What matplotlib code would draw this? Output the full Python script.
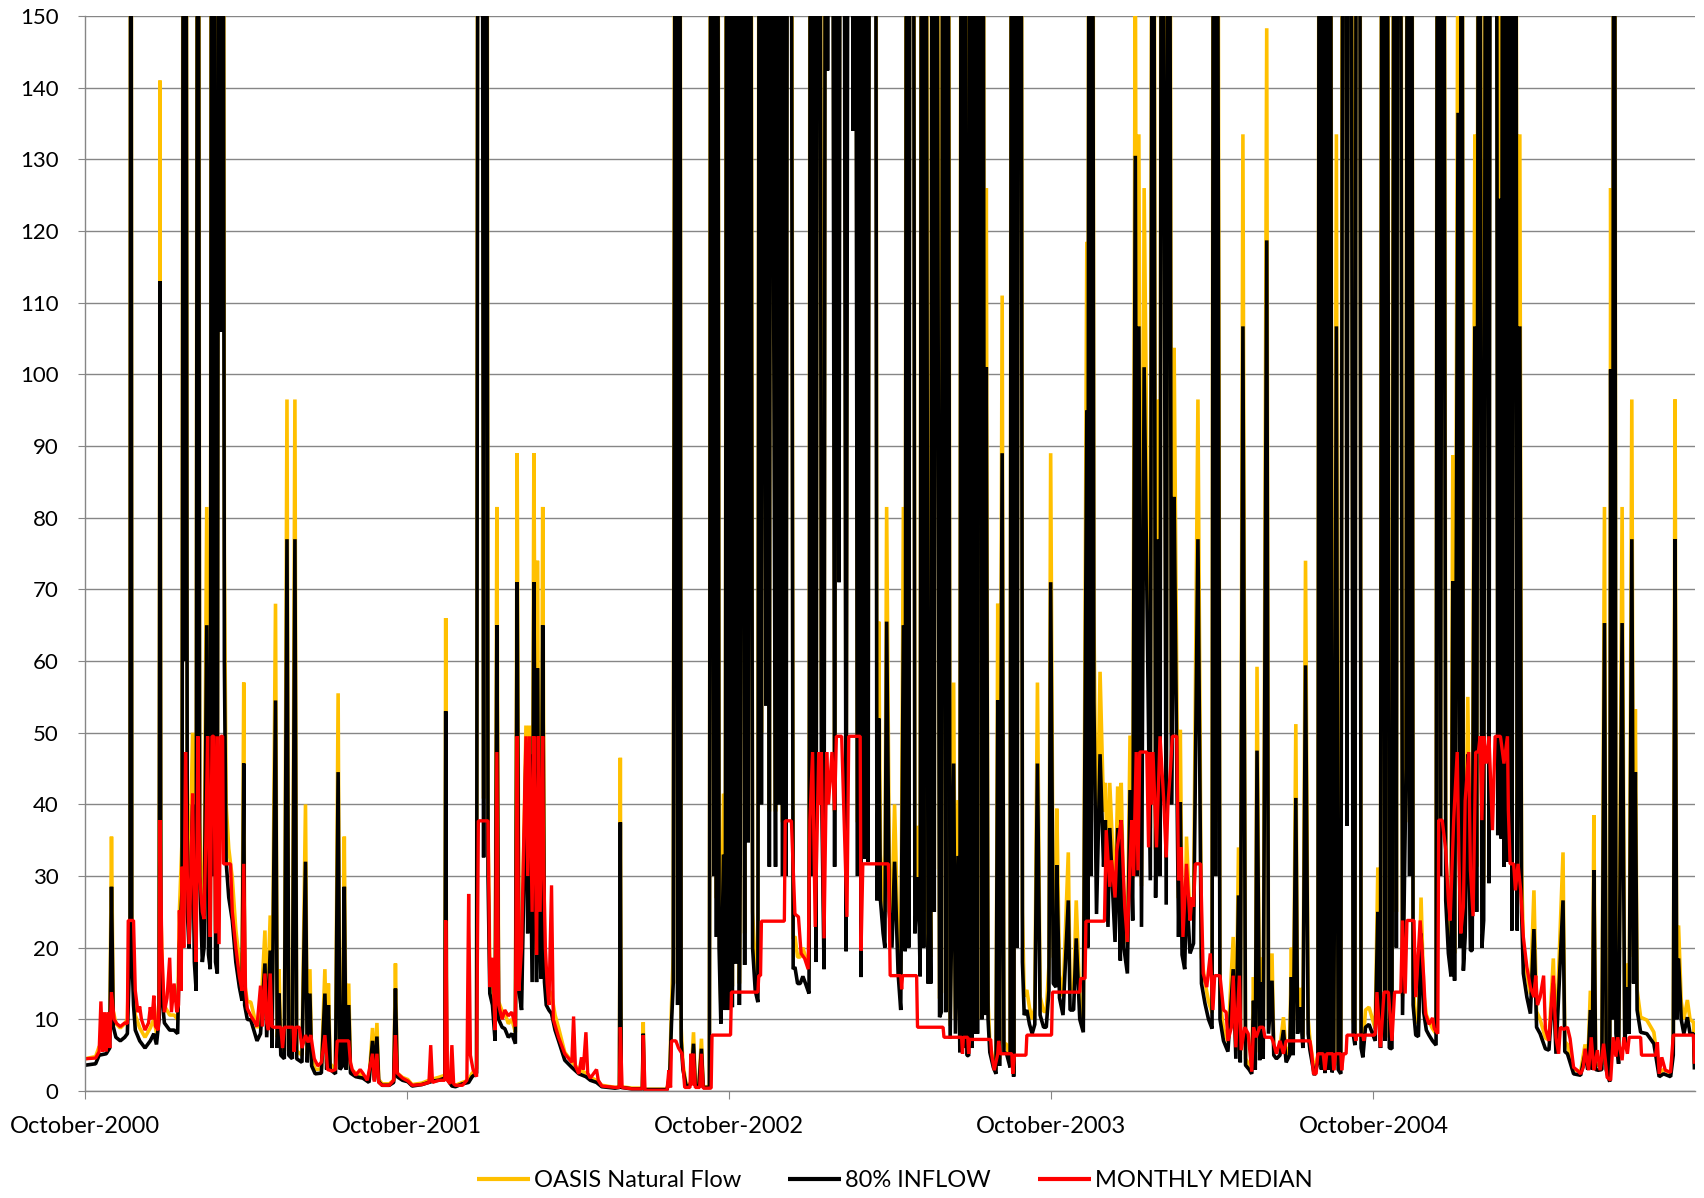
import numpy as np
import matplotlib
matplotlib.use('Agg')
import matplotlib.pyplot as plt
import matplotlib.dates as mdates

plt.rcParams['font.family'] = ['Lato', 'DejaVu Sans']

# daily knots, counted in days from 1 October 2000
flow_days = [
    0, 12, 16, 24, 28, 30, 32, 35, 40, 45,
    48, 51, 52, 53, 55, 57, 62, 68, 74, 78,
    81, 84, 85, 86, 88, 90, 96, 101, 105, 107,
    110, 112, 113, 114, 116, 118, 120, 122, 124, 126,
    128, 130, 133, 135, 138, 140, 142, 144, 145, 146,
    148, 150, 152, 153, 154, 155, 156, 158, 160, 163,
    167, 171, 175, 178, 180, 181, 184, 188, 195, 199,
    204, 206, 210, 212, 216, 218, 220, 222, 226, 229,
    231, 235, 238, 240, 246, 250, 252, 255, 257, 261,
    268, 272, 274, 276, 278, 284, 287, 289, 292, 294,
    296, 299, 301, 307, 315, 322, 326, 328, 331, 333,
    337, 345, 350, 352, 354, 360, 366, 371, 382, 390,
    395, 401, 408, 409, 410, 416, 420, 428, 435, 439,
    444, 446, 448, 450, 452, 453, 455, 457, 459, 462,
    465, 467, 469, 473, 476, 480, 484, 488, 490, 492,
    495, 497, 500, 502, 504, 507, 509, 511, 512, 513,
    515, 517, 519, 521, 523, 526, 529, 533, 537, 544,
    552, 560, 568, 573, 580, 586, 601, 606, 607, 608,
    620, 632, 633, 634, 660, 663, 665, 667, 670, 672,
    674, 676, 678, 682, 687, 690, 692, 696, 699, 701,
    708, 710, 713, 714, 716, 717, 719, 721, 724, 726,
    728, 730, 732, 734, 736, 738, 740, 742, 743, 745,
    748, 750, 752, 754, 757, 760, 763, 765, 767, 769,
    772, 774, 776, 778, 781, 783, 785, 787, 789, 791,
    793, 795, 797, 800, 803, 805, 808, 811, 814, 817,
    821, 823, 825, 827, 829, 831, 833, 835, 838, 840,
    842, 844, 847, 850, 853, 855, 857, 860, 863, 866,
    868, 871, 873, 876, 877, 880, 882, 884, 886, 888,
    890, 893, 896, 898, 900, 902, 905, 907, 909, 912, 915,
    918, 922, 925, 928, 930, 932, 934, 936, 939, 941,
    943, 945, 947, 949, 951, 953, 956, 958, 959, 961,
    963, 965, 969, 971, 973, 976, 978, 981, 985, 987,
    990, 992, 994, 996, 998, 1000, 1002, 1004, 1006, 1007,
    1009, 1011, 1012, 1013, 1014, 1015, 1017, 1018, 1020, 1022, 1024,
    1026, 1030, 1033, 1035, 1037, 1040, 1042, 1045, 1049, 1051,
    1053, 1055, 1057, 1059, 1061, 1063, 1065, 1068, 1071, 1074,
    1077, 1080, 1083, 1087, 1090, 1093, 1095, 1098, 1101, 1102,
    1105, 1109, 1115, 1117, 1121, 1124, 1128, 1132, 1136, 1137,
    1139, 1141, 1142, 1144, 1147, 1151, 1155, 1157, 1160, 1162,
    1168, 1171, 1174, 1175, 1178, 1182, 1185, 1188, 1191, 1193,
    1195, 1198, 1201, 1204, 1208, 1211, 1214, 1217, 1219, 1221,
    1226, 1229, 1232, 1235, 1237, 1240, 1242, 1244, 1247, 1249, 1253,
    1257, 1262, 1266, 1270, 1274, 1278, 1280, 1282, 1283, 1287,
    1291, 1296, 1302, 1305, 1308, 1310, 1313, 1316, 1320, 1323,
    1325, 1327, 1329, 1332, 1334, 1336, 1340, 1342, 1346,
    1348, 1351, 1355, 1359, 1362, 1366, 1368, 1370, 1373, 1375,
    1378, 1381, 1384, 1387, 1389, 1394, 1398, 1400, 1402, 1404,
    1406, 1408, 1410, 1412, 1414, 1416, 1419, 1421, 1424, 1427,
    1429, 1431, 1433, 1435, 1438, 1440, 1442, 1445, 1447, 1449,
    1452, 1456, 1460, 1463, 1466, 1469, 1471, 1474, 1476,
    1479, 1482, 1485, 1487, 1489, 1491, 1494, 1498, 1500, 1502,
    1504, 1506, 1509, 1512, 1515, 1518, 1521, 1524, 1528, 1532,
    1534, 1537, 1540, 1543, 1546, 1549, 1551, 1553, 1557, 1559,
    1561, 1563, 1565, 1568, 1571, 1573, 1576, 1578, 1581, 1584,
    1586, 1589, 1592, 1594, 1597, 1600, 1602, 1604, 1606, 1608,
    1609, 1611, 1613, 1615, 1617, 1618, 1620, 1622, 1624, 1627,
    1629, 1631, 1635, 1639, 1643, 1646, 1650, 1656, 1660, 1665,
    1668, 1676, 1678, 1681, 1688, 1696, 1701, 1704, 1707, 1709,
    1711, 1713, 1716, 1720, 1723, 1725, 1727, 1729, 1730, 1732,
    1734, 1736, 1739, 1743, 1746, 1749, 1751, 1754, 1756, 1758,
    1760, 1764, 1771, 1779, 1785, 1790, 1798, 1801, 1803, 1805,
    1807, 1810, 1813, 1817, 1820, 1824, 1825,
]

inflow_80 = [
    3.6, 3.8, 5.0, 5.2, 6.0, 28.5, 9.0, 7.5, 7.0, 7.5,
    8.0, 20, 250, 20, 12, 8.5, 7.0, 6.0, 7.0, 8.0,
    6.5, 10, 113, 20, 12, 9.5, 8.5, 8.5, 8.0, 20,
    28, 250, 60, 250, 25, 19.9, 30, 40, 18, 14,
    250, 30, 18, 20, 65, 19, 17, 250, 30, 250,
    18, 16.4, 250, 106, 250, 106, 250, 60, 32, 27,
    23.8, 18, 14.5, 12.6, 45.7, 12, 10, 9.9, 7.0, 8.0,
    17.8, 7.5, 19.6, 6.0, 54.5, 6.0, 13.6, 5.0, 4.5, 77,
    5.0, 4.5, 77, 4.5, 4.0, 32, 4.0, 13.6, 3.5, 2.4,
    2.5, 13.6, 3.0, 12, 3.0, 2.4, 44.5, 3.0, 3.5, 28.5,
    3.0, 12, 2.5, 2.0, 1.8, 1.2, 7.0, 1.5, 7.6, 1.3,
    0.8, 0.8, 1.2, 14.3, 2.0, 1.5, 1.3, 0.7, 0.9, 1.2,
    1.4, 1.5, 1.8, 53, 1.8, 0.7, 0.6, 1.0, 1.2, 2.0,
    2.5, 250, 250, 250, 32.6, 250, 250, 30, 13.6, 12,
    7.0, 65, 10, 8.9, 8.7, 7.5, 8.0, 6.6, 71, 14,
    11.3, 25, 47, 22, 47, 15.2, 71, 28.5, 15.2, 59,
    22.9, 15.7, 65, 15.2, 12, 11.3, 10.8, 8.5, 7.0, 4.3,
    3.3, 2.4, 2.0, 1.5, 1.2, 0.6, 0.4, 0.5, 37.5, 0.5,
    0.3, 0.3, 8.0, 0.2, 0.2, 2.0, 9.4, 15, 250, 12,
    250, 7.0, 3.0, 0.5, 1.0, 6.6, 0.8, 0.6, 5.9, 0.5,
    0.5, 250, 30, 250, 21.5, 250, 20, 9.4, 33, 11.3,
    250, 11.3, 250, 11.7, 250, 17.8, 250, 12, 34, 250,
    17.6, 250, 34.7, 250, 20, 14, 12.4, 250, 40, 250,
    53.8, 250, 31.3, 250, 106.7, 31.3, 250, 40, 250, 30,
    250, 30, 250, 250, 17, 17.3, 15, 15, 16, 15,
    13.6, 250, 30, 250, 18, 250, 250, 45, 17, 250,
    142.4, 250, 250, 31.3, 250, 71, 250, 250, 19.5, 250,
    250, 134, 250, 30, 250, 15.9, 250, 32.4, 250, 32,
    250, 250, 250, 26.6, 52, 26.6, 22, 20, 65.5, 25, 20,
    32, 16.4, 11.3, 65, 19.5, 250, 20, 250, 250, 22,
    26.6, 29.8, 16, 250, 20, 250, 15, 32.3, 15, 250,
    25, 250, 10.3, 11, 250, 11, 250, 7.3, 45.7, 8,
    32.8, 5.4, 250, 6, 250, 5, 4.9, 250, 6, 250,
    8, 250, 8, 250, 89, 250, 10, 250, 10.6, 101, 10,
    5.4, 3.3, 2.4, 54.5, 3.5, 89, 5.4, 5.2, 3.3, 250,
    2.0, 250, 20, 250, 250, 18, 10.6, 11.3, 9.3, 8,
    9.3, 45.7, 10.6, 8.9, 8.9, 14, 71, 15, 14.5, 31.5,
    13, 10.6, 26.6, 11.3, 11.3, 21.3, 10, 8.2, 95, 20,
    250, 30, 250, 54.3, 24.7, 47, 31.3, 37.8, 22.9, 36.7,
    20.8, 36.7, 18.2, 37.8, 20, 16.4, 42, 23.8, 130.5, 30,
    106.7, 22.9, 101, 71, 29.4, 250, 27, 77, 30, 250,
    26, 250, 40, 82.9, 57.7, 21.5, 40.3, 19, 17, 28.4, 19.2,
    20.6, 77, 15, 12.2, 10, 8.7, 250, 30, 250, 10,
    7, 5.5, 17, 4.5, 27.3, 4, 106.7, 3.6, 3.0, 2.4,
    12.6, 3, 47.5, 4.3, 15.2, 4.5, 118.7, 8, 15.4,
    5, 4.5, 5, 8.5, 4, 5, 15.9, 5, 40.9, 8,
    11.7, 6, 59.4, 8, 5.7, 2.2, 4, 250, 3, 250,
    2.5, 250, 3, 250, 2.6, 4, 106.7, 3, 2.4, 250,
    250, 37, 250, 250, 8, 6.4, 250, 250, 6, 4.7,
    8.9, 9.3, 8, 7, 25, 6, 250, 7, 250,
    6, 5.9, 250, 20, 250, 250, 10.6, 45, 250, 30,
    250, 12, 7.8, 7.6, 22, 11, 8.5, 7.8, 7, 6.4,
    250, 30, 250, 26.6, 19.2, 16, 71.1, 15.4, 136.5, 20,
    250, 16.8, 21.5, 47, 19.6, 19.6, 106.7, 25, 250, 20,
    23.8, 250, 29, 250, 250, 250, 35.7, 124.5, 35.2, 250,
    31.3, 250, 32, 56.3, 250, 22.4, 142, 250, 22.4, 106.7,
    25, 16.4, 13.1, 10.8, 22.6, 8.9, 8, 5.9, 5.7, 15,
    5.2, 26.6, 5.5, 5.2, 2.4, 2.2, 5.2, 3, 11.3, 3,
    30.8, 3, 2.9, 3, 65.3, 3, 2, 1.3, 100.7, 10,
    250, 8, 3.8, 65.3, 6, 14.5, 8, 77, 15, 44.5,
    11.3, 8.2, 8, 6.6, 2, 2.4, 2, 5, 77, 10,
    18.5, 10, 8, 10.3, 8, 8, 3,
]

natural_flow = [
    4.5, 4.8, 6.2, 6.5, 7.5, 35.5, 11.2, 9.4, 8.8, 9.4,
    10.0, 25, 312, 25, 15, 10.6, 8.8, 7.5, 8.8, 10.0,
    8.1, 12.5, 141, 25, 15, 11.9, 10.6, 10.6, 10.0, 25,
    35, 312, 75, 312, 31, 24.9, 37.5, 50, 22.5, 17.5,
    312, 37.5, 22.5, 25, 81.5, 23.7, 21.2, 312, 37.5, 312,
    22.5, 20.5, 312, 133, 312, 133, 312, 75, 40, 33.8,
    29.7, 22.5, 18.1, 15.7, 57, 15, 12.5, 12.4, 8.8, 10.0,
    22.4, 9.4, 24.5, 7.5, 68, 7.5, 17, 6.2, 5.6, 96.5,
    6.2, 5.6, 96.5, 5.6, 5.0, 40, 5.0, 17, 4.4, 3.0,
    3.1, 17, 3.8, 15, 3.8, 3.0, 55.5, 3.8, 4.4, 35.5,
    3.8, 15, 3.1, 2.5, 2.2, 1.5, 8.8, 1.9, 9.5, 1.6,
    1.0, 1.0, 1.5, 17.8, 2.5, 1.9, 1.6, 0.9, 1.1, 1.5,
    1.7, 1.9, 2.2, 66, 2.2, 0.9, 0.8, 1.2, 1.5, 2.5,
    3.1, 312, 312, 312, 40.8, 312, 312, 37.5, 17, 15,
    8.8, 81.5, 12.5, 11.1, 10.9, 9.4, 10.0, 8.2, 89, 17.5,
    14.1, 31, 51, 27.5, 51, 19, 89, 35.6, 19, 74,
    28.6, 19.6, 81.5, 19, 15, 14.1, 13.5, 10.6, 8.8, 5.4,
    4.1, 3.0, 2.5, 1.9, 1.5, 0.8, 0.5, 0.6, 46.5, 0.6,
    0.4, 0.4, 9.6, 0.25, 0.25, 2.5, 11.8, 19, 312, 15,
    312, 8.8, 3.8, 0.6, 1.2, 8.2, 1.0, 0.8, 7.3, 0.6,
    0.6, 312, 37.5, 312, 26.9, 312, 25, 11.8, 41.5, 14.1,
    312, 14.1, 312, 14.6, 312, 22.2, 312, 15, 42.5, 312,
    22, 312, 43.4, 312, 25, 17.5, 15.5, 312, 50, 312,
    67, 312, 39, 312, 133.6, 39, 312, 50, 312, 37.5,
    312, 37.5, 312, 312, 21.2, 21.6, 18.7, 18.7, 20, 18.7,
    17, 312, 37.5, 312, 22.5, 312, 312, 55.8, 21.2, 312,
    178, 312, 312, 39, 312, 89, 312, 312, 24.4, 312,
    312, 167, 312, 37.5, 312, 19.9, 312, 40.5, 312, 40,
    312, 312, 312, 33, 65.5, 33, 27.5, 25, 81.5, 31, 25,
    40, 20.5, 14.1, 81.5, 24.4, 312, 25, 312, 312, 27.5,
    33, 37, 20, 312, 25, 312, 18.7, 39.6, 18.7, 312,
    31, 312, 12.9, 13.7, 312, 13.7, 312, 9.1, 57, 10,
    40.6, 6.7, 312, 7.5, 312, 6.2, 6.1, 312, 7.5, 312,
    10, 312, 10, 312, 111, 312, 12.5, 312, 13.2, 126, 12.5,
    6.7, 4.1, 3.0, 68, 4.4, 111, 6.7, 6.5, 4.1, 312,
    2.5, 312, 25, 312, 312, 25, 13.2, 14.1, 11.6, 10,
    11.6, 57, 13.2, 11.1, 11.1, 17.5, 89, 18.7, 18, 39.4,
    16.2, 13.2, 33.3, 14.1, 14.1, 26.6, 12.5, 10.2, 118.5, 25,
    312, 37.5, 312, 66.5, 30.8, 58.5, 39, 43, 28.6, 43,
    26, 42.5, 22.7, 43, 25, 20.5, 49.6, 29.7, 163, 37.5,
    133.5, 28.6, 126, 89, 36.7, 312, 33.7, 96.5, 37.5, 312,
    32.5, 312, 50, 103.7, 72, 26.9, 50.4, 23.7, 21.2, 35.5, 24,
    25.7, 96.5, 18.7, 15.2, 12.5, 10.9, 312, 37.5, 312, 12.5,
    8.7, 6.9, 21.5, 5.6, 34, 5, 133.5, 4.5, 3.7, 3.0,
    15.9, 3.7, 59.2, 5.4, 18.6, 5.6, 148.3, 10, 19.2,
    6.2, 5.6, 6.2, 10.3, 5, 6.2, 20, 6.2, 51.2, 10,
    14.4, 7.5, 74, 10, 7.1, 2.7, 5, 312, 3.7, 312,
    3.1, 312, 3.7, 312, 3.2, 5, 133.5, 3.7, 3, 312,
    312, 46, 312, 312, 10, 8, 312, 312, 7.5, 5.9,
    11.3, 11.7, 10, 8.7, 31.2, 7.5, 312, 8.7, 312,
    7.5, 7.4, 312, 25, 312, 312, 13.2, 56.2, 312, 37.5,
    312, 15, 9.7, 9.5, 27, 13.7, 10.6, 9.7, 8.7, 8,
    312, 37.5, 312, 33.2, 24, 20, 88.7, 19.2, 170, 25,
    312, 21, 26.9, 55, 24.5, 24.5, 133.5, 31.3, 312, 25,
    29.7, 312, 36, 312, 312, 312, 44.6, 170, 44, 312,
    39, 312, 40, 70.5, 312, 28, 178, 312, 28, 133.5,
    31.3, 20.5, 16.4, 13.5, 28, 11.1, 10, 7.4, 7.1, 18.5,
    6.5, 33.3, 6.9, 6.5, 3, 2.7, 6.5, 3.7, 14, 3.7,
    38.5, 3.7, 3.6, 3.7, 81.5, 3.7, 2.5, 1.6, 126, 12.5,
    312, 10, 4.7, 81.5, 7.5, 17.8, 10, 96.5, 18.7, 53.3,
    14.1, 10.3, 9.9, 8.2, 2.5, 3, 2.5, 6.2, 96.5, 12.5,
    23.1, 12.5, 10, 12.7, 10, 9.6, 3.8,
]

median_days = [
    0, 12, 16, 18, 20, 22, 24, 26, 28, 30,
    33, 36, 40, 45, 48, 49, 55, 57, 60, 62,
    64, 68, 72, 74, 76, 78, 80, 83, 84, 85,
    87, 90, 93, 96, 98, 101, 104, 106, 107, 109,
    110, 112, 114, 116, 118, 120, 122, 124, 126, 128,
    130, 133, 135, 137, 139, 141, 142, 144, 146, 148,
    150, 152, 154, 156, 157, 165, 167, 171, 175, 178,
    180, 182, 184, 188, 193, 195, 199, 201, 204, 206,
    208, 210, 212, 214, 222, 224, 226, 236, 237, 239,
    243, 246, 250, 253, 256, 260, 264, 268, 272, 275,
    280, 284, 286, 299, 301, 303, 307, 312, 315, 320,
    326, 328, 331, 333, 337, 345, 350, 352, 354, 360,
    366, 371, 382, 390, 392, 394, 401, 408, 409, 411,
    414, 416, 418, 420, 428, 433, 435, 437, 440, 444,
    446, 457, 459, 462, 465, 467, 469, 473, 476, 480,
    484, 488, 490, 492, 495, 497, 500, 502, 504, 507,
    509, 511, 512, 514, 516, 519, 520, 522, 524, 526,
    529, 531, 537, 544, 552, 554, 556, 560, 563, 565,
    568, 570, 573, 580, 582, 586, 601, 606, 607, 609,
    620, 632, 633, 635, 660, 662, 664, 665, 670, 673,
    677, 680, 686, 687, 689, 690, 692, 697, 699, 701,
    710, 711, 732, 733, 763, 764, 766, 767, 793, 794,
    801, 805, 809, 812, 816, 820, 822, 825, 828, 832,
    833, 835, 838, 841, 843, 847, 850, 852, 858, 864,
    866, 879, 880, 882, 911, 912, 913, 925, 926, 927,
    943, 944, 973, 974, 994, 995, 996, 1001, 1002, 1003,
    1027, 1028, 1031, 1035, 1036, 1038, 1051, 1052, 1054, 1067,
    1068, 1096, 1097, 1128, 1129, 1134, 1135, 1156, 1158, 1162,
    1164, 1168, 1170, 1175, 1179, 1182, 1185, 1187, 1189, 1192,
    1194, 1196, 1204, 1206, 1208, 1209, 1211, 1215, 1219, 1223,
    1226, 1228, 1231, 1233, 1238, 1240, 1243, 1245, 1249, 1253,
    1255, 1257, 1259, 1265, 1268, 1272, 1276, 1279, 1281, 1287,
    1291, 1294, 1296, 1300, 1302, 1305, 1309, 1311, 1315, 1319,
    1323, 1325, 1328, 1332, 1336, 1338, 1345, 1347, 1351, 1355,
    1359, 1362, 1389, 1391, 1393, 1396, 1398, 1404, 1406, 1408,
    1415, 1416, 1418, 1424, 1425, 1427, 1430, 1431, 1440, 1441,
    1442, 1449, 1450, 1451, 1462, 1463, 1465, 1469, 1473, 1478,
    1482, 1485, 1492, 1494, 1497, 1499, 1507, 1509, 1514, 1518,
    1520, 1524, 1528, 1530, 1534, 1535, 1539, 1543, 1546, 1548,
    1552, 1556, 1558, 1560, 1563, 1565, 1569, 1571, 1574, 1577,
    1580, 1582, 1584, 1586, 1589, 1592, 1596, 1599, 1605, 1609,
    1613, 1614, 1616, 1620, 1622, 1625, 1628, 1631, 1635, 1639,
    1643, 1645, 1647, 1650, 1654, 1656, 1660, 1665, 1668, 1671,
    1673, 1677, 1681, 1684, 1688, 1692, 1696, 1699, 1701, 1705,
    1708, 1711, 1715, 1718, 1722, 1726, 1730, 1733, 1736, 1738,
    1743, 1745, 1749, 1751, 1764, 1765, 1781, 1783, 1785, 1788,
    1792, 1798, 1801, 1824, 1825,
]

monthly_median = [
    4.5, 4.6, 5.5, 12.5, 5.5, 11, 5.5, 11, 6, 13.8,
    10, 9.4, 9, 9.5, 9.4, 23.8, 23.8, 14, 11, 11.8,
    10, 8.5, 9.5, 11.7, 10, 13.3, 9, 8.5, 12, 37.8,
    20, 11, 13, 18.6, 11, 15, 11, 12, 25.2, 14,
    31.3, 20, 47.3, 30, 20.5, 30, 41.5, 25, 18, 49.5,
    30, 25, 24, 35, 49.5, 30, 21.5, 49.5, 49.5, 22,
    49.5, 20.5, 49.5, 49.5, 31.7, 31.7, 25, 20, 16, 14,
    31.7, 14, 11.5, 10.5, 9.5, 9, 14.7, 9, 16.4, 9.5,
    8.5, 16.4, 9, 8.9, 8.9, 6, 8.9, 8.9, 5.5, 8.9,
    8.9, 6, 7.8, 6.8, 7.8, 4.5, 3.5, 4, 7.8, 3,
    2.8, 3, 7, 7, 4, 3, 2.2, 3, 2.5, 1.5,
    5.2, 1.3, 5.2, 1.2, 0.8, 0.8, 1.5, 7.8, 2.5, 1.8,
    1.4, 0.8, 0.9, 1.2, 6.4, 1.2, 1.5, 1.5, 23.8, 1.5,
    1.0, 6.4, 1.0, 0.8, 0.8, 1.5, 27.5, 5, 3, 2,
    37.7, 37.7, 14.5, 18.6, 8.5, 47.3, 12, 10, 11.3, 10.5,
    11, 9, 49.5, 14, 20, 31.7, 49.5, 30, 49.5, 25,
    49.5, 30, 19, 49.5, 25, 49.5, 31.7, 20, 15, 12,
    28.7, 10, 7.5, 5.2, 4, 10.4, 3.5, 2.4, 4.7, 3,
    8.2, 2.5, 1.8, 3, 1.5, 0.7, 0.5, 0.5, 8.9, 0.5,
    0.3, 0.3, 7.8, 0.1, 0.1, 2.9, 0.5, 7, 7, 6,
    5.2, 0.5, 0.5, 5.2, 0.8, 5.2, 0.5, 0.5, 5.2, 0.4,
    0.4, 7.8, 7.8, 13.8, 13.8, 16.1, 16.1, 23.7, 23.7, 37.7,
    37.7, 24.7, 24.3, 19.2, 18.5, 17, 37.8, 47.3, 22.9, 47.3,
    40, 47.3, 21.3, 47.3, 40, 47.3, 39.2, 49.5, 49.5, 24.3,
    49.5, 49.5, 19.6, 31.7, 31.7, 25, 16.1, 16.1, 14.2, 16.1,
    16.1, 8.9, 8.9, 7.5, 7.5, 5.2, 7.5, 7.5, 5.2, 7.2,
    7.2, 5.2, 2.9, 5.2, 7, 5.2, 5.2, 2.4, 5, 5,
    7.8, 7.8, 13.8, 13.8, 15.7, 15.7, 23.7, 23.7, 36.4, 28.5,
    32.2, 27, 33.5, 37.8, 25.7, 20.8, 32, 37.8, 30, 47.3,
    30.8, 47.3, 47.3, 34, 47.3, 40, 47.3, 34, 49.5, 41,
    32.6, 40, 45.2, 49.5, 49.5, 29.4, 34, 21.5, 31.7, 23.8,
    27, 25.7, 31.7, 31.7, 16.4, 14.5, 19.2, 11.3, 16.1, 16.1,
    11.3, 11, 7, 8.9, 16.1, 6.1, 16.1, 5.7, 8.9, 8,
    2.7, 8.9, 7.5, 8.9, 8.9, 7.5, 7.5, 7, 5.2, 7,
    5.2, 7, 7, 5.2, 2.4, 2.4, 5.2, 5.2, 2.9, 5.2,
    5.2, 2.9, 5.2, 5.2, 2.9, 5.2, 5.2, 7.8, 7.8, 7,
    7.8, 7.8, 7, 7.8, 7.8, 8, 13.8, 6.1, 13.8, 13.8,
    7, 13.8, 13.8, 23.8, 13.6, 23.8, 23.8, 13.1, 23.8, 15.9,
    10.8, 9.3, 10.2, 8.7, 8, 37.8, 37.8, 33.6, 26.6, 23.8,
    37.8, 47.3, 32.2, 22, 25.7, 40.5, 47.3, 30.8, 24.4, 47.3,
    47.3, 49.5, 37.8, 49.5, 45.7, 49.5, 36.4, 49.5, 49.5, 45.7,
    49.5, 39.2, 31.7, 31.7, 28, 31.7, 28, 21.5, 17.3, 14.5,
    13.1, 16.1, 12, 13.1, 16.1, 8.7, 7, 16.1, 7.4, 5.2,
    8.9, 8.6, 8.9, 7.3, 3.3, 2.9, 2.4, 3.3, 5.9, 2.9,
    7.5, 2.9, 5.7, 2.9, 6.6, 1.9, 1.5, 7.5, 4.8, 7.5,
    4.3, 7.5, 5.2, 7.5, 7.5, 5, 5, 6.8, 2.4, 4.7,
    2.9, 2.6, 7.8, 7.8, 3.8,
]

year_ticks = [0, 365, 730, 1095, 1461]

start = np.datetime64('2000-10-01')


def to_dates(days):
    return start + np.array(days, dtype='timedelta64[D]')


fig = plt.figure(figsize=(17.04, 11.98), dpi=100)
ax = fig.add_axes([0.0499, 0.0893, 0.9450, 0.8973])

style = dict(solid_joinstyle='bevel', solid_capstyle='butt')
l1, = ax.plot(to_dates(flow_days), natural_flow, color='#FFC000', lw=2.6,
              label='OASIS Natural Flow', **style)
l2, = ax.plot(to_dates(flow_days), inflow_80, color='black', lw=2.6,
              label='80% INFLOW', **style)
l3, = ax.plot(to_dates(median_days), monthly_median, color='#FF0000', lw=2.4,
              label='MONTHLY MEDIAN', **style)

ax.set_xlim(start, start + np.timedelta64(1826, 'D'))
ax.set_ylim(0, 150)
ax.set_yticks(range(0, 151, 10))
ax.set_xticks(to_dates(year_ticks))
ax.xaxis.set_major_formatter(mdates.DateFormatter('%B-%Y'))

ax.grid(axis='y', color='#868686', lw=1.0)
ax.set_axisbelow(True)
for s in ['top', 'right']:
    ax.spines[s].set_visible(False)
for s in ['left', 'bottom']:
    ax.spines[s].set_color('#868686')
    ax.spines[s].set_linewidth(1.0)

ax.tick_params(axis='y', length=5, color='#868686', pad=14, labelsize=16)
ax.tick_params(axis='x', length=6, color='#868686', pad=12, labelsize=17)

leg = fig.legend(handles=[l1, l2, l3], loc='center', bbox_to_anchor=(0.525, 0.0145),
                 ncol=3, frameon=False, fontsize=17, handlelength=2.25,
                 handletextpad=0.15, columnspacing=2.0)
for h in leg.get_lines():
    h.set_linewidth(3)

fig.savefig('out.png', dpi=100)
